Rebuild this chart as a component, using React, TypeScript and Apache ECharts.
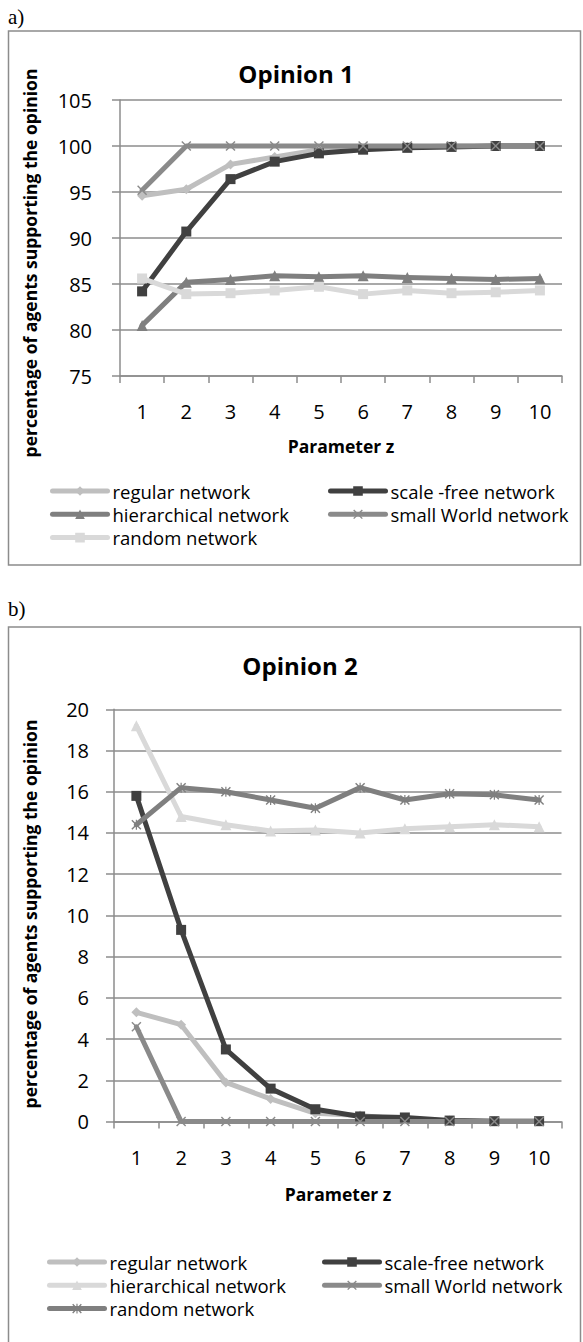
import React, { useEffect, useRef } from 'react';
import * as echarts from 'echarts';

// ---------- data ----------
const categories = ['1', '2', '3', '4', '5', '6', '7', '8', '9', '10'];

// Opinion 1 (chart a)
const op1Regular = [94.6, 95.3, 98.0, 98.8, 99.6, 99.8, 99.9, 100, 100, 100];
const op1ScaleFree = [84.2, 90.7, 96.4, 98.3, 99.2, 99.6, 99.8, 99.9, 100, 100];
const op1Hierarchical = [80.5, 85.2, 85.5, 85.9, 85.8, 85.9, 85.7, 85.6, 85.5, 85.6];
const op1SmallWorld = [95.2, 100, 100, 100, 100, 100, 100, 100, 100, 100];
const op1Random = [85.6, 83.9, 84.0, 84.3, 84.7, 83.9, 84.3, 84.0, 84.1, 84.3];

// Opinion 2 (chart b)
const op2Regular = [5.3, 4.7, 1.9, 1.1, 0.4, 0.3, 0.1, 0.05, 0.02, 0.02];
const op2ScaleFree = [15.8, 9.3, 3.5, 1.6, 0.6, 0.25, 0.2, 0.05, 0.02, 0.02];
const op2Hierarchical = [19.2, 14.8, 14.4, 14.1, 14.15, 14.0, 14.2, 14.3, 14.4, 14.3];
const op2SmallWorld = [4.6, 0, 0, 0, 0, 0, 0, 0, 0, 0];
const op2Random = [14.4, 16.2, 16.0, 15.6, 15.2, 16.2, 15.6, 15.9, 15.85, 15.6];

const op1Names = ['regular network', 'scale -free network', 'hierarchical network', 'small World network', 'random network'];
const op2Names = ['regular network', 'scale-free network', 'hierarchical network', 'small World network', 'random network'];

// ---------- styling ----------
const FONT = '"Open Sans", "Noto Sans", sans-serif';
const GRID_COLOR = '#8c8c8c';
const X_SYMBOL = 'path://M1,0L5,4L9,0L10,1L6,5L10,9L9,10L5,6L1,10L0,9L4,5L0,1Z';
const STAR_SYMBOL = 'path://M1,0L5,4L9,0L10,1L6,5L10,9L9,10L5,6L1,10L0,9L4,5L0,1Z M4.4,0L5.6,0L5.6,10L4.4,10Z';

const C_LIGHT = '#bfbfbf';
const C_DARK = '#404040';
const C_MID = '#7f7f7f';
const C_MID2 = '#8a8a8a';
const C_PALE = '#d9d9d9';

function lineSeries(name: string, data: number[], color: string, symbol: string, size: number) {
  return {
    name,
    type: 'line',
    data,
    symbol,
    symbolSize: size,
    clip: false,
    lineStyle: { color, width: 5, cap: 'round', join: 'round' },
    itemStyle: { color },
    emphasis: { disabled: true },
  };
}

function textEl(text: string, x: number, y: number, size: number, bold: boolean, extra: any = {}) {
  return {
    type: 'text',
    x,
    y,
    ...extra,
    style: {
      text,
      fontFamily: extra.fontFamily || FONT,
      fontSize: size,
      fontWeight: bold ? 'bold' : 'normal',
      fill: '#000',
      align: extra.align || 'center',
      verticalAlign: 'middle',
    },
  };
}

function legendCol(left: number, top: number, data: string[]) {
  return {
    orient: 'vertical',
    left,
    top,
    padding: 0,
    itemWidth: 55,
    itemHeight: 12,
    itemGap: 3.3,
    selectedMode: false,
    lineStyle: { width: 5, cap: 'round' },
    data,
    textStyle: { fontSize: 18.5, fontFamily: FONT, color: '#000', lineHeight: 20 },
  };
}

function axes(min: number, max: number, interval: number, yMargin: number, xMargin: number) {
  const lineStyle = { color: GRID_COLOR, width: 1.5 };
  return {
    xAxis: {
      type: 'category',
      data: categories,
      boundaryGap: true,
      axisLine: { show: true, lineStyle },
      axisTick: { show: true, length: 7, lineStyle },
      axisLabel: { margin: xMargin, fontSize: 20, color: '#000', fontFamily: FONT },
      splitLine: { show: false },
    },
    yAxis: {
      type: 'value',
      min,
      max,
      interval,
      axisLine: { show: true, lineStyle },
      axisTick: { show: true, length: 8, lineStyle },
      axisLabel: { margin: yMargin, fontSize: 20, color: '#000', fontFamily: FONT },
      splitLine: { show: true, lineStyle },
    },
  };
}

const option1 = {
  animation: false,
  textStyle: { fontFamily: FONT },
  graphic: [
    textEl('a)', 8, 17, 21, false, { align: 'left', fontFamily: '"Liberation Serif", serif' }),
    {
      type: 'rect',
      shape: { x: 8.5, y: 31, width: 572, height: 534 },
      style: { fill: 'none', stroke: GRID_COLOR, lineWidth: 1.5 },
    },
    textEl('Opinion 1', 296, 73, 24, true),
    textEl('percentage of agents supporting the opinion', 30, 263, 17.5, true, { rotation: Math.PI / 2 }),
    textEl('Parameter z', 341, 446, 17.5, true),
  ],
  grid: { left: 120, top: 100, width: 442, height: 276 },
  ...axes(75, 105, 5, 28, 25),
  legend: [
    legendCol(50, 481, [op1Names[0], op1Names[2], op1Names[4]]),
    legendCol(328, 481, [op1Names[1], op1Names[3]]),
  ],
  series: [
    lineSeries(op1Names[0], op1Regular, C_LIGHT, 'diamond', 10),
    lineSeries(op1Names[1], op1ScaleFree, C_DARK, 'rect', 10),
    lineSeries(op1Names[2], op1Hierarchical, C_MID, 'triangle', 11),
    lineSeries(op1Names[3], op1SmallWorld, C_MID2, X_SYMBOL, 10),
    lineSeries(op1Names[4], op1Random, C_PALE, 'rect', 10),
  ],
};

const option2 = {
  animation: false,
  textStyle: { fontFamily: FONT },
  graphic: [
    textEl('b)', 8, 13, 21, false, { align: 'left', fontFamily: '"Liberation Serif", serif' }),
    {
      type: 'rect',
      shape: { x: 8.5, y: 31, width: 572, height: 760 },
      style: { fill: 'none', stroke: GRID_COLOR, lineWidth: 1.5 },
    },
    textEl('Opinion 2', 300, 69, 24, true),
    textEl('percentage of agents supporting the opinion', 30, 318, 17.5, true, { rotation: Math.PI / 2 }),
    textEl('Parameter z', 338, 598, 17.5, true),
  ],
  grid: { left: 114, top: 113.3, width: 447.5, height: 412.3 },
  ...axes(0, 20, 2, 25, 26),
  legend: [
    legendCol(47, 656, [op2Names[0], op2Names[2], op2Names[4]]),
    legendCol(322, 656, [op2Names[1], op2Names[3]]),
  ],
  series: [
    lineSeries(op2Names[0], op2Regular, C_LIGHT, 'diamond', 10),
    lineSeries(op2Names[1], op2ScaleFree, C_DARK, 'rect', 10),
    lineSeries(op2Names[2], op2Hierarchical, C_PALE, 'triangle', 11),
    lineSeries(op2Names[3], op2SmallWorld, C_MID2, X_SYMBOL, 10),
    lineSeries(op2Names[4], op2Random, C_MID, STAR_SYMBOL, 10),
  ],
};

function Chart({ option, height }: { option: any; height: number }) {
  const ref = useRef<HTMLDivElement>(null);
  useEffect(() => {
    if (!ref.current) return;
    const chart = echarts.init(ref.current, undefined, { renderer: 'svg' });
    chart.setOption(option);
    return () => chart.dispose();
  }, [option]);
  return <div ref={ref} style={{ width: 583, height }} />;
}

export default function App() {
  useEffect(() => {
    document.body.style.margin = '0';
  }, []);
  return (
    <div style={{ width: 583, height: 1342, background: '#fff', overflow: 'hidden' }}>
      <Chart option={option1} height={596} />
      <Chart option={option2} height={746} />
    </div>
  );
}
